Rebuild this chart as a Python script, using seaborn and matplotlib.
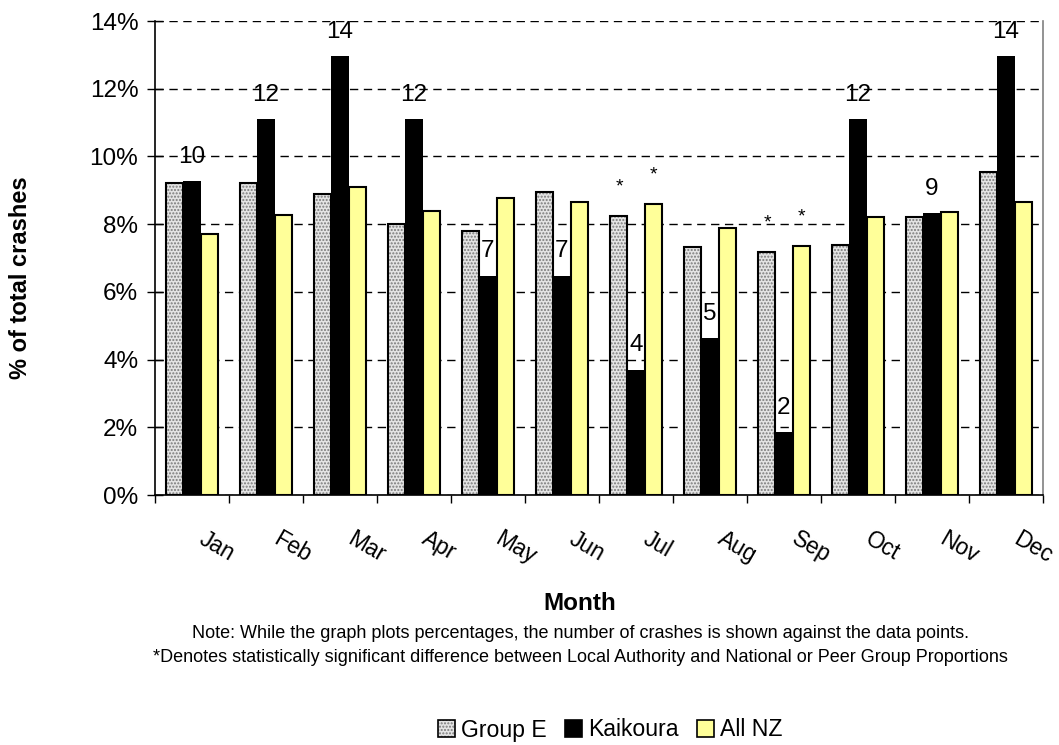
import matplotlib
matplotlib.use("Agg")
import matplotlib.pyplot as plt
import matplotlib.colors as mcolors
import matplotlib.transforms as mtransforms
from matplotlib.patches import Patch
import numpy as np
import pandas as pd
import seaborn as sns

months = ["Jan", "Feb", "Mar", "Apr", "May", "Jun", "Jul", "Aug", "Sep", "Oct", "Nov", "Dec"]
group_e = [9.21, 9.21, 8.89, 8.00, 7.80, 8.95, 8.24, 7.32, 7.18, 7.38, 8.21, 9.54]
kaikoura = [9.26, 11.11, 12.96, 11.11, 6.48, 6.48, 3.70, 4.63, 1.85, 11.11, 8.33, 12.96]
all_nz = [7.71, 8.27, 9.10, 8.39, 8.77, 8.65, 8.59, 7.88, 7.35, 8.21, 8.36, 8.65]
kaikoura_counts = [10, 12, 14, 12, 7, 7, 4, 5, 2, 12, 9, 14]
significant = ["Jul", "Sep"]
series_names = ["Group E", "Kaikoura", "All NZ"]

sns.set_theme(style="white")
plt.rcParams["font.family"] = ["Liberation Sans", "DejaVu Sans"]
plt.rcParams["text.color"] = "black"
plt.rcParams["xtick.color"] = "black"
plt.rcParams["ytick.color"] = "black"
plt.rcParams["hatch.linewidth"] = 1.0

df = pd.DataFrame({
    "Month": months * 3,
    "Pct": group_e + kaikoura + all_nz,
    "Series": [series_names[0]] * 12 + [series_names[1]] * 12 + [series_names[2]] * 12,
})

colors = {"Group E": "#dcdcdc", "Kaikoura": "#000000", "All NZ": "#ffff99"}
ge_face = "#e4e4e4"
ge_hatch = "#7a7a7a"

fig = plt.figure(figsize=(10.59, 7.45), dpi=100)
ax = fig.add_axes([155 / 1059, 1 - 495 / 745, (1043 - 155) / 1059, (495 - 21) / 745])

sns.barplot(data=df, x="Month", y="Pct", hue="Series", order=months,
            hue_order=series_names, palette=colors, width=0.69, gap=0,
            saturation=1, edgecolor="black", linewidth=1.5, legend=False, ax=ax,
            zorder=3)

n = len(months)
for i, p in enumerate(ax.patches[: 3 * n]):
    s = i // n
    if s == 0:
        p.set_hatch(".....")
        p.set_facecolor(ge_face)
        p._hatch_color = mcolors.to_rgba(ge_hatch)
    elif s == 1:
        p.set_linewidth(0)

ax.set_ylim(0, 14)
ax.set_xlim(-0.5, n - 0.5)
ax.set_yticks(np.arange(0, 15, 2))
ax.set_yticklabels([f"{v}%" for v in range(0, 15, 2)], fontsize=17.5, color="black")
ax.yaxis.grid(True, color="black", linestyle=(0, (6, 4)), linewidth=1.0, zorder=0)
ax.set_axisbelow(True)
ax.tick_params(axis="y", which="major", direction="inout", length=11, width=1,
               color="black", left=True, pad=6.5)

ax.set_xticks(np.arange(n))
ax.set_xticks(np.arange(-0.5, n, 1.0), minor=True)
ax.tick_params(axis="x", which="minor", direction="out", length=6, width=1, color="black",
               bottom=True)
ax.tick_params(axis="x", which="major", length=0, pad=23)
ax.set_xticklabels(months, fontsize=16.4, color="black")
offset = mtransforms.ScaledTranslation(15 / 100, 0, fig.dpi_scale_trans)
for lab in ax.get_xticklabels():
    lab.set_rotation(-30)
    lab.set_ha("left")
    lab.set_va("top")
    lab.set_rotation_mode("anchor")
    lab.set_transform(lab.get_transform() + offset)

for side in ["left", "bottom"]:
    ax.spines[side].set_color("black")
    ax.spines[side].set_linewidth(1.2)
ax.spines["right"].set_color("#808080")
ax.spines["right"].set_linewidth(1.2)
ax.spines["top"].set_visible(False)

ax.set_xlabel("")
ax.set_ylabel("")

# Kaikoura counts
kaik_patches = ax.patches[n: 2 * n]
for p, c in zip(kaik_patches, kaikoura_counts):
    ax.annotate(str(c), (p.get_x() + p.get_width() / 2, p.get_height()),
                xytext=(0, 17.5), textcoords="offset points", ha="center", va="center",
                fontsize=17.5, color="black", zorder=5)

# significance stars
for m in significant:
    i = months.index(m)
    for s in (0, 2):
        p = ax.patches[s * n + i]
        ax.annotate("*", (p.get_x() + p.get_width() / 2, p.get_height()),
                    xytext=(0, 21), textcoords="offset points", ha="center", va="center",
                    fontsize=14, color="black", zorder=5)

fig.text(21 / 1059, 1 - 278 / 745, "% of total crashes", rotation=90, ha="center",
         va="center", fontsize=17, fontweight="bold", color="black")
fig.text(580 / 1059, 1 - 603 / 745, "Month", ha="center", va="center", fontsize=17.5,
         fontweight="bold", color="black")
fig.text(580 / 1059, 1 - 633 / 745,
         "Note: While the graph plots percentages, the number of crashes is shown against the data points.",
         ha="center", va="center", fontsize=13, color="black")
fig.text(580 / 1059, 1 - 657 / 745,
         "*Denotes statistically significant difference between Local Authority and National or Peer Group Proportions",
         ha="center", va="center", fontsize=13, color="black")

handles = []
for name in series_names:
    if name == "Group E":
        h = Patch(facecolor=ge_face, edgecolor="black", hatch=".....", linewidth=1.2)
        h._hatch_color = mcolors.to_rgba(ge_hatch)
    else:
        h = Patch(facecolor=colors[name], edgecolor="black", linewidth=1.2)
    handles.append(h)
fig.legend(handles, series_names, loc="center", bbox_to_anchor=(610 / 1059, 1 - 730 / 745),
           ncol=3, frameon=False, fontsize=16.6, handlelength=0.75, handleheight=0.75,
           handletextpad=0.25, columnspacing=0.8)

fig.savefig("out.png", dpi=100)
